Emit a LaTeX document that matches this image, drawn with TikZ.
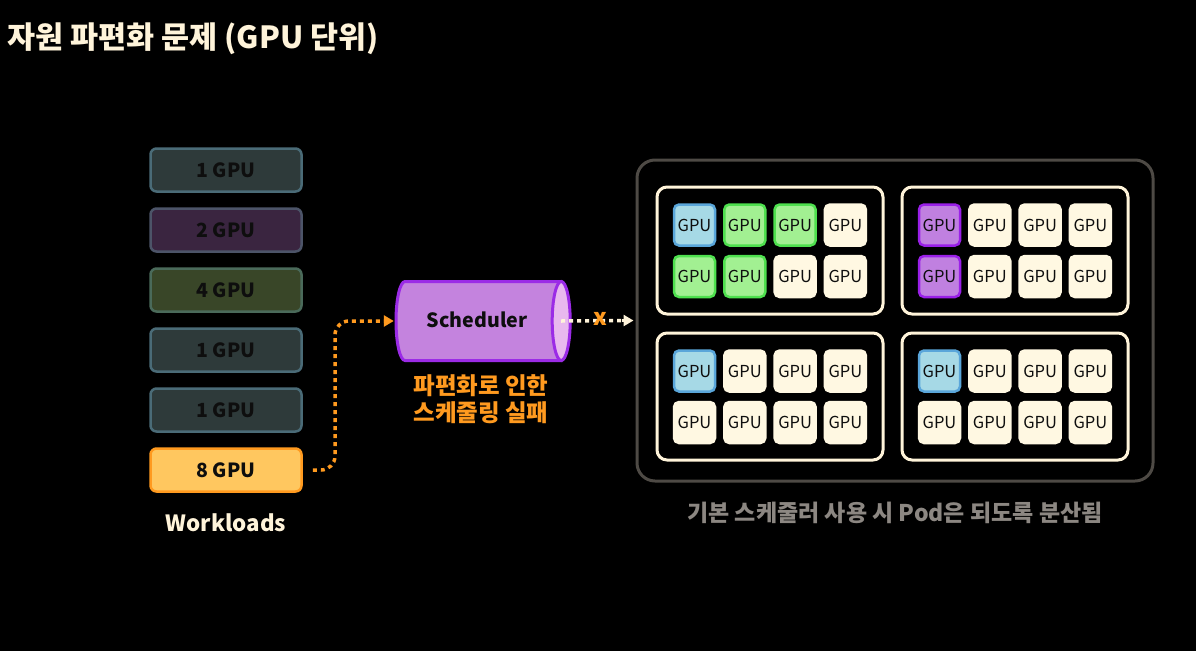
\documentclass[tikz,border=0pt]{standalone}
\usepackage{fontspec}
\setmainfont{Noto Sans CJK KR}
\usetikzlibrary{arrows.meta}
\definecolor{cream}{HTML}{FFF4DA}
\definecolor{txt}{HTML}{0E0E0E}
\definecolor{w1f}{HTML}{2E3A3A}\definecolor{w1d}{HTML}{4A6B77}
\definecolor{w2f}{HTML}{3A2540}\definecolor{w2d}{HTML}{4C5468}
\definecolor{w3f}{HTML}{394628}\definecolor{w3d}{HTML}{4A6A5A}
\definecolor{w6f}{HTML}{FFC75F}\definecolor{w6d}{HTML}{FF9A1F}
\definecolor{schf}{HTML}{C483DE}\definecolor{schd}{HTML}{9B2BE6}\definecolor{capf}{HTML}{E8B8EE}
\definecolor{orng}{HTML}{FF9A1F}
\definecolor{outerd}{HTML}{4E4A45}
\definecolor{capt}{HTML}{8C8782}
\definecolor{fc}{HTML}{FFF8E2}\definecolor{dc}{HTML}{FFF8E2}
\definecolor{fb}{HTML}{A6D9E6}\definecolor{db}{HTML}{5AA6DA}
\definecolor{fg}{HTML}{A2F092}\definecolor{dg}{HTML}{4EE04E}
\definecolor{fp}{HTML}{C080E0}\definecolor{dp}{HTML}{9A20E8}
\tikzset{
  wl/.style={draw, line width=2.5pt, rounded corners=6pt, minimum width=151pt, minimum height=43pt,
    inner sep=0pt, font=\fontsize{19.5}{22}\selectfont\bfseries, text=txt},
  frame/.style={draw=cream, fill=black, line width=3pt, rounded corners=10pt, minimum width=226pt,
    minimum height=127pt, inner sep=0pt},
  cell/.style={line width=2.5pt, rounded corners=5pt, minimum width=41pt, minimum height=41pt,
    inner sep=0pt, font=\fontsize{16.5}{19}\selectfont, text=txt},
  dots/.style={line width=3.5pt, dash pattern=on 4pt off 4pt},
}
\begin{document}
\begin{tikzpicture}[x=1pt,y=-1pt]
\useasboundingbox (0,0) rectangle (1196,651);
\fill[black] (0,0) rectangle (1196,651);
\node[anchor=base west, inner sep=0pt, font=\fontsize{30.5}{34}\selectfont\bfseries, text=cream] (title) at (7,48) {자원 파편화 문제 (GPU 단위)};
% workloads
\node[wl, fill=w1f, draw=w1d] (w1) at (226,170) {1 GPU};
\node[wl, fill=w2f, draw=w2d] (w2) at (226,230) {2 GPU};
\node[wl, fill=w3f, draw=w3d] (w3) at (226,290) {4 GPU};
\node[wl, fill=w1f, draw=w1d] (w4) at (226,350) {1 GPU};
\node[wl, fill=w1f, draw=w1d] (w5) at (226,410) {1 GPU};
\node[wl, fill=w6f, draw=w6d] (w6) at (226,470) {8 GPU};
\node[font=\fontsize{22.3}{26}\selectfont\bfseries, text=cream] (wlabel) at (226,523) {Workloads};
% scheduler
\node[minimum width=165pt, minimum height=79pt, inner sep=0pt] (sched) at (478.5,321) {};
\filldraw[fill=schf, draw=schd, line width=3pt]
  (405,281.5) -- (561,281.5) -- (561,360.5) -- (405,360.5)
  .. controls (400,360.5) and (396,342.8) .. (396,321)
  .. controls (396,299.2) and (400,281.5) .. (405,281.5) -- cycle;
\filldraw[fill=capf, draw=schd, line width=3pt] (sched.east) ellipse [x radius=9pt, y radius=39.5pt];
\node[font=\fontsize{19.6}{22}\selectfont\bfseries, text=txt] (schedtext) at (477,320) {Scheduler};
\node[align=center, font=\fontsize{23.5}{27}\selectfont\bfseries, text=orng] (fail) at (481,399) {파편화로 인한\\스케줄링 실패};
% orange arrow
\coordinate (bend) at (335,321);
\draw[dots, orng, rounded corners=14pt] ([xshift=10pt]w6.east) -| (bend) -- ([xshift=-10pt]sched.west);
\draw[-{Triangle[length=10pt,width=11pt]}, orng, line width=3.5pt] ([xshift=-12pt]sched.west) -- ([xshift=-2pt]sched.west);
% cluster
\node[draw=outerd, line width=3pt, rounded corners=18pt, minimum width=516pt, minimum height=321pt, inner sep=0pt] (cluster) at (895,320.5) {};
\draw[dots, cream] (sched.east) -- ([xshift=-12pt]cluster.west);
\draw[-{Triangle[length=10pt,width=11pt]}, cream, line width=3.5pt] ([xshift=-14pt]cluster.west) -- ([xshift=-2pt]cluster.west);
\node[font=\fontsize{23}{24}\selectfont\bfseries, text=orng, inner sep=0pt] (xmark) at (600,319) {x};
% nodes
\foreach \nd/\nx/\ny/\cols in {tl/770/250.5/{b,g,g,c,g,g,c,c}, tr/1015/250.5/{p,c,c,c,p,c,c,c},
    bl/770/396.5/{b,c,c,c,c,c,c,c}, br/1015/396.5/{b,c,c,c,c,c,c,c}}{
  \node[frame] (\nd) at (\nx,\ny) {};
  \foreach \s [count=\k from 0] in \cols {
    \pgfmathtruncatemacro\col{mod(\k,4)}
    \pgfmathtruncatemacro\row{div(\k,4)}
    \node[cell, fill=f\s, draw=d\s] (\nd-\k) at (\nx-75.5+50.3*\col, \ny-25.5+51.5*\row) {GPU};
  }
}
\node[font=\fontsize{23}{26}\selectfont\bfseries, text=capt] (caption) at (895,513) {기본 스케줄러 사용 시 Pod은 되도록 분산됨};
\end{tikzpicture}
\end{document}
